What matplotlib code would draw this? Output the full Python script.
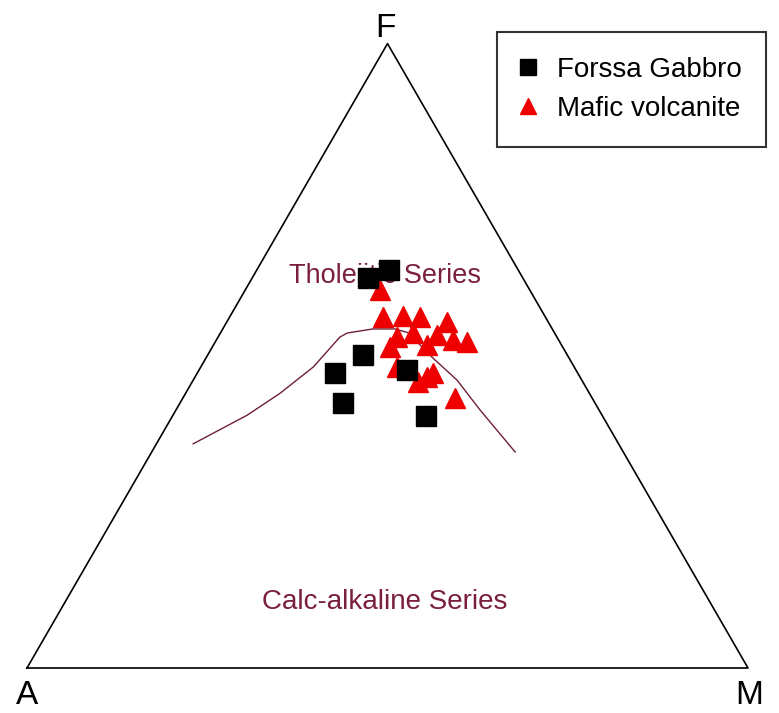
import numpy as np
import matplotlib.pyplot as plt

plt.rcParams['font.family'] = ['Liberation Sans', 'DejaVu Sans']

# AFM ternary data (percent): A = Na2O+K2O, F = FeOt, M = MgO
gabbro_F = [62.5, 63.7, 50.1, 47.3, 47.7, 42.4, 40.4]
gabbro_A = [21.5, 17.9, 28.3, 33.6, 23.4, 35.0, 24.5]
gabbro_M = [16.0, 18.3, 21.5, 19.1, 28.8, 22.6, 35.1]

volc_F = [60.5, 56.2, 56.4, 56.2, 55.4, 52.2, 53.0, 53.7, 53.3, 52.5,
          51.4, 51.7, 48.2, 46.6, 45.8, 47.2, 43.2]
volc_A = [20.8, 22.5, 19.7, 17.4, 14.1, 12.9, 22.2, 19.6, 16.5, 14.7,
          24.0, 18.7, 24.6, 21.2, 22.9, 20.1, 19.0]
volc_M = [18.7, 21.3, 24.0, 26.4, 30.5, 34.9, 24.8, 26.7, 30.2, 32.8,
          24.6, 29.6, 27.2, 32.2, 31.3, 32.7, 37.7]

# tholeiitic / calc-alkaline dividing line (Irvine & Baragar)
line_F = [35.9, 40.5, 44.0, 48.2, 53.0, 53.7, 54.3, 54.3, 53.7, 49.7, 46.1, 41.3, 34.6]
line_A = [59.0, 49.2, 42.9, 36.2, 30.1, 28.8, 24.9, 21.8, 20.3, 18.9, 17.3, 16.5, 15.0]
line_M = [5.1, 10.3, 13.1, 15.6, 16.9, 17.6, 20.8, 23.9, 26.0, 31.5, 36.6, 42.2, 50.4]


def tern_xy(F, A, M):
    F, A, M = np.asarray(F, float), np.asarray(A, float), np.asarray(M, float)
    tot = F + A + M
    f, m = F / tot, M / tot
    return m + f / 2, f * np.sqrt(3) / 2


W, H = 779, 713
fig = plt.figure(figsize=(W / 100, H / 100), dpi=100)
ax = fig.add_axes([0, 0, 1, 1])
s = 721.0
ax.set_xlim(-27 / s, (W - 27) / s)
ax.set_ylim(-(H - 668) / s, 668 / s)
ax.axis('off')

# triangle frame
tx = [0, 1, 0.5, 0]
ty = [0, 0, np.sqrt(3) / 2, 0]
ax.plot(tx, ty, color='black', lw=1.2, zorder=1)

lx, ly = tern_xy(line_F, line_A, line_M)
ax.plot(lx, ly, color='#6e1f35', lw=1.0, zorder=2)

red = '#7a1f40'
ax.text(0.4965, 0.5437, 'Tholeiitic Series', color=red, fontsize=19.5,
        ha='center', va='center', zorder=2)
ax.text(0.4965, 0.0915, 'Calc-alkaline Series', color=red, fontsize=20,
        ha='center', va='center', zorder=2)

vx, vy = tern_xy(volc_F, volc_A, volc_M)
h2, = ax.plot(vx, vy, '^', color='#ee0000', ms=15, mec='#ee0000', ls='none',
              zorder=3, label='Mafic volcanite')
gx, gy = tern_xy(gabbro_F, gabbro_A, gabbro_M)
h1, = ax.plot(gx, gy, 's', color='black', ms=14.5, ls='none', zorder=4,
              label='Forssa Gabbro')

ax.text(0, -0.038, 'A', fontsize=24, ha='center', va='center')
ax.text(1.0015, -0.038, 'M', fontsize=24, ha='center', va='center')
ax.text(0.497, np.sqrt(3) / 2 + 0.021, 'F', fontsize=24, ha='center', va='center')

leg = ax.legend([h1, h2], ['Forssa Gabbro', 'Mafic volcanite'],
                loc='upper left', bbox_to_anchor=(497 / W, 1 - 32 / H),
                bbox_transform=fig.transFigure, fontsize=20, frameon=True,
                fancybox=False, edgecolor='black', markerscale=0.75,
                handlelength=0.4, handletextpad=0.85, borderpad=0.9,
                labelspacing=0.45, borderaxespad=0)
leg.get_frame().set_linewidth(1.5)

fig.savefig('out.png', dpi=100)
